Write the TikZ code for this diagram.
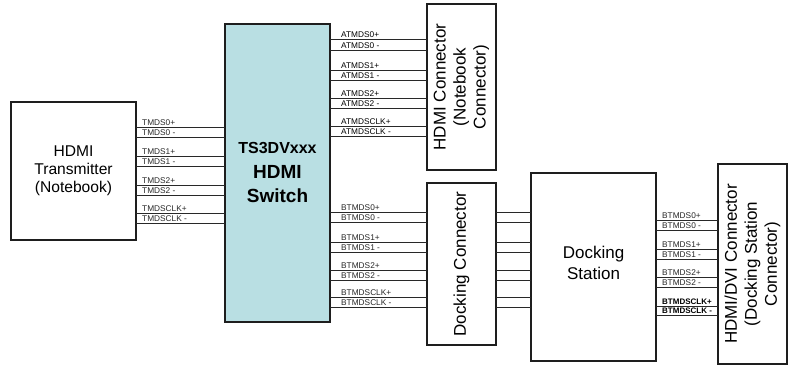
\documentclass[tikz,border=0pt]{standalone}
\usepackage{fontspec}
\setmainfont{Liberation Sans}
\definecolor{swfill}{RGB}{185,223,227}
\definecolor{boxline}{RGB}{30,30,30}
\definecolor{wire}{RGB}{40,40,40}
\tikzset{
  blk/.style={draw=boxline, line width=2.2pt, fill=white, inner sep=0pt, outer sep=0pt},
  bigtxt/.style={font=\fontsize{16}{18.5}\selectfont, align=center},
  wireline/.style={draw=wire, line width=0.8pt},
  lab/.style={font=\fontsize{8.3}{9}\selectfont, text=black!85, inner sep=0pt, anchor=base west}
}
\begin{document}
\begin{tikzpicture}[x=1pt,y=-1pt]
\useasboundingbox (0,0) rectangle (792,366);
% boxes
\node[blk, minimum width=125pt, minimum height=138pt] (tx) at (73.5,171) {};
\node[blk, fill=swfill, minimum width=105pt, minimum height=298pt] (sw) at (277.5,173) {};
\node[blk, minimum width=69pt, minimum height=166pt] (hc) at (461.5,87) {};
\node[blk, minimum width=69pt, minimum height=162pt] (dc) at (461.5,264) {};
\node[blk, minimum width=125pt, minimum height=188pt] (ds) at (593.5,267) {};
\node[blk, minimum width=69pt, minimum height=200pt] (hd) at (752.5,264) {};
% texts
\node[bigtxt, font=\fontsize{15.6}{18}\selectfont] at (tx.center) {HDMI\\Transmitter\\(Notebook)};
\node[font=\bfseries\fontsize{16}{18}\selectfont] at (277.5,148) {TS3DVxxx};
\node[font=\bfseries\fontsize{19}{24}\selectfont, align=center] at (277.5,184) {HDMI\\Switch};
\node[bigtxt, font=\fontsize{17}{20}\selectfont, rotate=90] at (hc.center) {HDMI Connector\\(Notebook\\Connector)};
\node[bigtxt, font=\fontsize{17}{20}\selectfont, rotate=90] at (dc.center) {Docking Connector};
\node[bigtxt, font=\fontsize{17}{21}\selectfont] at (593.5,263) {Docking\\Station};
\node[bigtxt, font=\fontsize{17}{20}\selectfont, rotate=90] at (hd.center) {HDMI/DVI Connector\\(Docking Station\\Connector)};
% transmitter -> switch
\foreach \y/\t in {127/TMDS0+,137/TMDS0 -,156/TMDS1+,166/TMDS1 -,185/TMDS2+,195/TMDS2 -,213/TMDSCLK+,223/TMDSCLK -}{
  \draw[wireline] (tx.east |- 0,\y) -- (sw.west |- 0,\y);
  \node[lab] at ([xshift=6pt, yshift=1.3pt]tx.east |- 0,\y) {\t};
}
% switch -> HDMI connector
\foreach \y/\t in {39/ATMDS0+,50/ATMDS0 -,70/ATMDS1+,80/ATMDS1 -,98/ATMDS2+,108/ATMDS2 -,126/ATMDSCLK+,136/ATMDSCLK -}{
  \draw[wireline] (sw.east |- 0,\y) -- (hc.west |- 0,\y);
  \node[lab, text=black] at ([xshift=11pt, yshift=1.3pt]sw.east |- 0,\y) {\t};
}
% switch -> docking connector
\foreach \y/\t in {212/BTMDS0+,222/BTMDS0 -,242/BTMDS1+,252/BTMDS1 -,270/BTMDS2+,280/BTMDS2 -,297/BTMDSCLK+,307/BTMDSCLK -}{
  \draw[wireline] (sw.east |- 0,\y) -- (dc.west |- 0,\y);
  \node[lab] at ([xshift=11pt, yshift=1.3pt]sw.east |- 0,\y) {\t};
}
% docking connector -> docking station
\foreach \y in {212,222,242,252,270,280,297,307}{
  \draw[wireline] (dc.east |- 0,\y) -- (ds.west |- 0,\y);
}
% docking station -> HDMI/DVI connector
\foreach \y/\t in {220/BTMDS0+,230/BTMDS0 -,249/BTMDS1+,259/BTMDS1 -,277/BTMDS2+,287/BTMDS2 -}{
  \draw[wireline] (ds.east |- 0,\y) -- (hd.west |- 0,\y);
  \node[lab] at ([xshift=6pt, yshift=1.3pt]ds.east |- 0,\y) {\t};
}
\foreach \y/\t in {306/BTMDSCLK+,315/BTMDSCLK -}{
  \draw[wireline] (ds.east |- 0,\y) -- (hd.west |- 0,\y);
  \node[lab, text=black, font=\bfseries\fontsize{8}{9}\selectfont] at ([xshift=6pt, yshift=1.3pt]ds.east |- 0,\y) {\t};
}
\end{tikzpicture}
\end{document}
